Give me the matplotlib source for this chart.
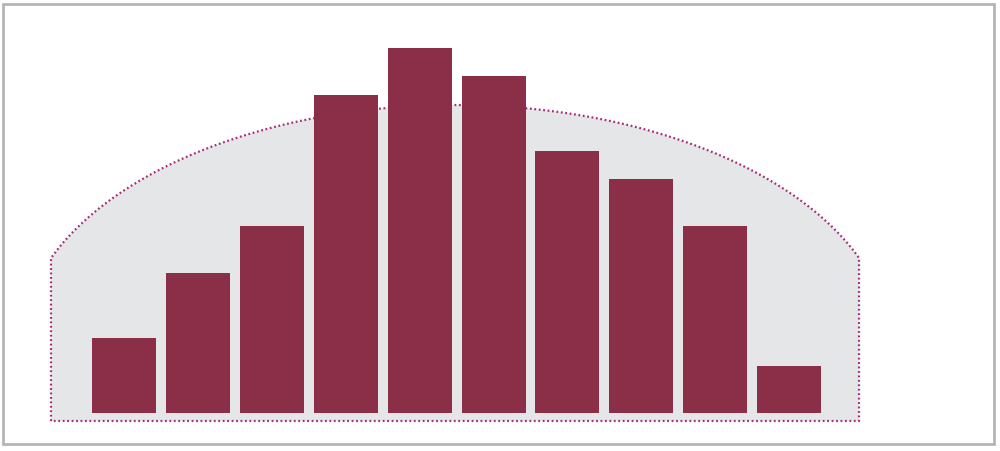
import numpy as np
import matplotlib
matplotlib.use("Agg")
import matplotlib.pyplot as plt
from matplotlib.patches import Rectangle

# bar values (left to right)
categories = list(range(10))
values = [8, 15, 20, 34, 39, 36, 28, 25, 20, 5]

bar_color = "#8b2e47"
shape_fill = "#e5e6e8"
shape_edge = "#a8287a"
frame_color = "#b3b6b8"

fig = plt.figure(figsize=(10, 4.52), dpi=100)
ax = fig.add_axes([0, 0, 1, 1])

# map data to the canvas: bar centres 73.9 px apart, 9.36 px per unit
step = 73.9
unit = 9.36
base = 414
ax.set_xlim(-124 / step, (1000 - 124) / step)
ax.set_ylim(-(452 - base) / unit, base / unit)
ax.axis("off")

# background hump shape (vertical sides + elliptical top)
left, right = -0.988, 9.946
bottom = -(422 - base) / unit
side_top = (base - 259) / unit
peak = (base - 106) / unit
cx = 4.48
a = 435 / step
half = (right - left) / 2
s_end = np.sqrt(1 - (half / a) ** 2)
b = (peak - side_top) / (1 - s_end)
cy = peak - b
xs = np.linspace(left, right, 300)
ys = cy + b * np.sqrt(np.clip(1 - ((xs - cx) / a) ** 2, 0, None))
px = np.concatenate([[left], xs, [right, right, left, left]])
py = np.concatenate([[bottom], ys, [bottom, bottom, bottom, bottom]])
ax.fill(px, py, color=shape_fill, zorder=1, lw=0)
ax.plot(px, py, color=shape_edge, lw=1.6, ls=(0, (0.8, 1.2)), zorder=2)

ax.bar(categories, values, width=64 / step, color=bar_color, zorder=3)

# outer frame
fig.patches.append(Rectangle((3 / 1000, 1 - 445 / 452), 991 / 1000, 440 / 452,
                             transform=fig.transFigure, fill=False,
                             edgecolor=frame_color, lw=2))

fig.savefig("out.png", dpi=100)
